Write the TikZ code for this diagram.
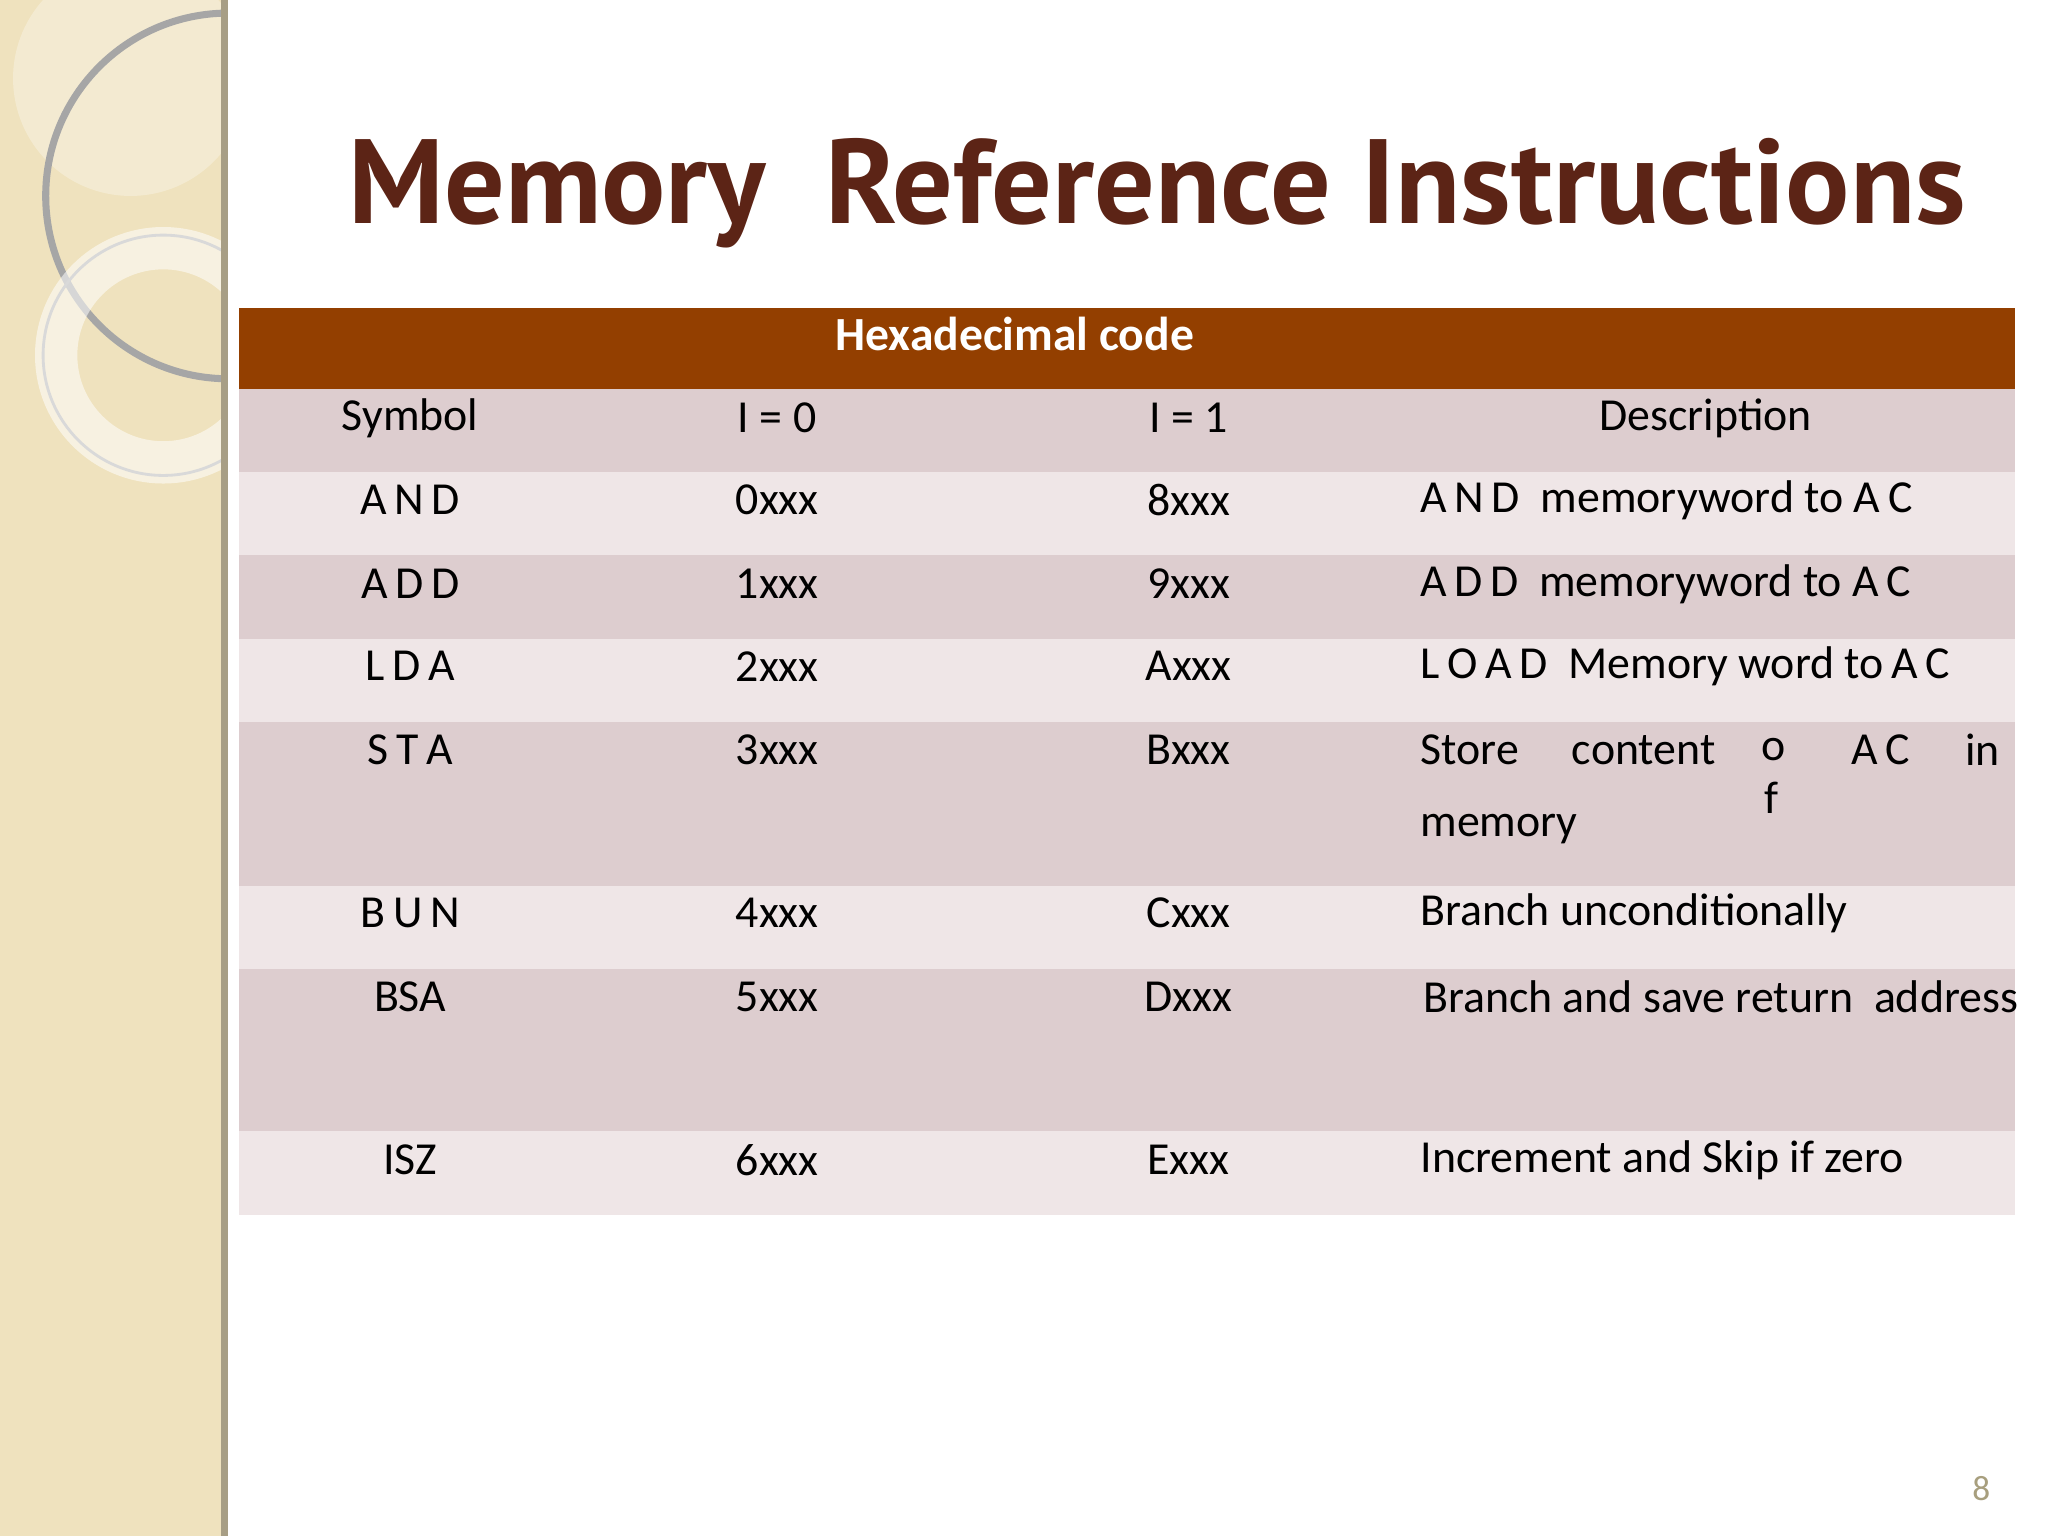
\documentclass[tikz,border=0pt]{standalone}
\usepackage{fontspec}
\setmainfont{Carlito}
\newfontfamily\titlefont{PT Sans}
\definecolor{hdr}{HTML}{933F00}
\definecolor{rdark}{HTML}{DDCDCF}
\definecolor{rlight}{HTML}{EFE6E7}
\definecolor{ttl}{HTML}{5C2416}
\definecolor{side}{HTML}{EFE2BE}
\definecolor{pn}{HTML}{A89F7E}
\begin{document}
\begin{tikzpicture}[x=0.3705pt,y=-0.3705pt,
  cell/.style={font=\fontsize{13}{15}\selectfont,anchor=center},
  dl/.style={font=\fontsize{13}{15}\selectfont,anchor=west}]
\useasboundingbox (0,0) rectangle (1568,1176);
\fill[white] (0,0) rectangle (1568,1176);
% sidebar
\fill[side] (0,0) rectangle (172,1176);
\begin{scope}
\clip (0,0) rectangle (172,1176);
\fill[white,opacity=0.3] (100,60) circle (90);
\draw[gray!70,line width=2] (175,150) circle (140);
\draw[white,opacity=0.55,line width=12] (125,272) circle (82);
\draw[gray!30,line width=0.8] (125,272) circle (92);
\end{scope}
\draw[side!70!black,line width=2] (172,0) -- (172,1176);
% title
\node[text=ttl,font=\titlefont\bfseries\fontsize{34}{38}\selectfont] (title) at (886,148) {Memory~ Reference Instructions};
% table rows
\fill[hdr] (183,236) rectangle (1543,298);
\fill[rdark] (183,298) rectangle (1543,361);
\fill[rlight] (183,361) rectangle (1543,425);
\fill[rdark] (183,425) rectangle (1543,489);
\fill[rlight] (183,489) rectangle (1543,553);
\fill[rdark] (183,553) rectangle (1543,678);
\fill[rlight] (183,678) rectangle (1543,742);
\fill[rdark] (183,742) rectangle (1543,866);
\fill[rlight] (183,866) rectangle (1543,930);
\node[text=white,font=\bfseries\fontsize{13.5}{16}\selectfont] (hx) at (777,256) {Hexadecimal code};
% header row
\node[cell] (h1) at (314,320) {Symbol};
\node[cell] (h2) at (595,320) {I = 0};
\node[cell] (h3) at (910,320) {I = 1};
\node[cell] (h4) at (1306,320) {Description};
% data
\foreach \y/\a/\b/\c [count=\i] in {383/A\,N\,D/0xxx/8xxx,447/A\,D\,D/1xxx/9xxx,510/L\,D\,A/2xxx/Axxx,574/S\,T\,A/3xxx/Bxxx,699/B\,U\,N/4xxx/Cxxx,763/BSA/5xxx/Dxxx,888/ISZ/6xxx/Exxx}{
  \node[cell] (s\i) at (314,\y) {\a};
  \node[cell] (z\i) at (595,\y) {\b};
  \node[cell] (o\i) at (910,\y) {\c};
}
\node[dl] (d1) at (1078,383) {A\,N\,D~ memoryword to A\,C};
\node[dl] (d2) at (1078,447) {A\,D\,D~ memoryword to A\,C};
\node[dl] (d3) at (1078,510) {L\,O\,A\,D~ Memory word to\,A\,C};
\node[dl] (d4a) at (1078,574) {Store};
\node[dl] (d4b) at (1194,574) {content};
\node[cell] (d4c) at (1358,574) {o};
\node[cell] (d4d) at (1356,611) {f};
\node[cell] (d4e) at (1440,574) {A\,C};
\node[cell] (d4f) at (1518,574) {in};
\node[dl] (d4g) at (1078,635) {memory};
\node[dl] (d5) at (1078,699) {Branch unconditionally};
\node[dl] (d6) at (1080,763) {Branch and save return~ address};
\node[dl] (d7) at (1078,888) {Increment and Skip if zero};
\node[text=pn,font=\fontsize{10}{12}\selectfont] (pg) at (1517,1140) {8};
\end{tikzpicture}
\end{document}
